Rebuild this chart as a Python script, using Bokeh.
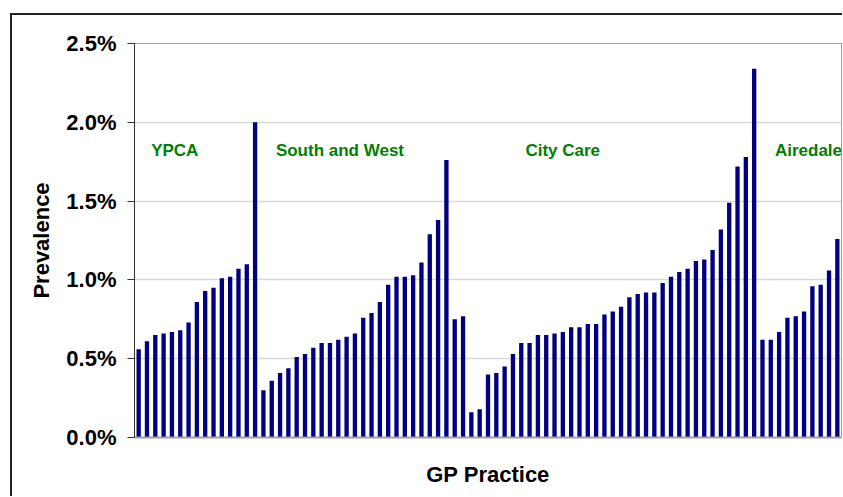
import numpy as np
from bokeh.plotting import figure
from bokeh.models import Range1d, FixedTicker, PrintfTickFormatter, ColumnDataSource
from bokeh.core.properties import value
from bokeh.embed import file_html
from bokeh.resources import INLINE

# ---- data (prevalence, %) ----
ypca = [0.56, 0.61, 0.65, 0.66, 0.67, 0.68, 0.73, 0.86, 0.93, 0.95, 1.01, 1.02, 1.07, 1.10, 2.00]
south_west = [0.30, 0.36, 0.41, 0.44, 0.51, 0.53, 0.57, 0.60, 0.60, 0.62, 0.64, 0.66, 0.76, 0.79,
              0.86, 0.97, 1.02, 1.02, 1.03, 1.11, 1.29, 1.38, 1.76, 0.75, 0.77]
city_care = [0.16, 0.18, 0.40, 0.41, 0.45, 0.53, 0.60, 0.60, 0.65, 0.65, 0.66, 0.67, 0.70, 0.70,
             0.72, 0.72, 0.78, 0.80, 0.83, 0.89, 0.91, 0.92, 0.92, 0.98, 1.02, 1.05, 1.07, 1.12,
             1.13, 1.19, 1.32, 1.49, 1.72, 1.78, 2.34]
airedale = [0.62, 0.62, 0.67, 0.76, 0.77, 0.80, 0.96, 0.97, 1.06, 1.26]

group_names = ["YPCA", "South and West", "City Care", "Airedale"]
group_label_at = [2, 17, 47, 77]     # practice index where each label starts
group_label_y = [1.82, 1.82, 1.82, 1.82]

y_ticks = [0.0, 0.5, 1.0, 1.5, 2.0, 2.5]

values = ypca + south_west + city_care + airedale
n = len(values)
FONT = "Liberation Sans"

src = ColumnDataSource(dict(x=np.arange(n) + 0.5, top=values))

p = figure(width=832, height=483, x_range=Range1d(0, n), y_range=Range1d(0, 2.5),
           output_backend="svg", toolbar_location=None,
           min_border_left=122, min_border_top=28, min_border_right=3, min_border_bottom=61)
p.margin = (13, 0, 0, 10)
p.styles = {"border-left": "2px solid #222222", "border-top": "2px solid #222222"}

p.vbar(x="x", top="top", width=0.52, bottom=0, source=src, fill_color="#000080", line_color=None)

p.text(x=group_label_at, y=group_label_y, text=group_names,
       text_font=value(FONT), text_font_style="bold", text_font_size="17px",
       text_color="#008000", text_align="left", text_baseline="middle")

p.outline_line_color = "#a0a0a0"
p.outline_line_width = 1
p.background_fill_color = "white"
p.border_fill_color = "white"

p.xgrid.visible = False
p.ygrid.ticker = FixedTicker(ticks=y_ticks)
p.ygrid.grid_line_color = "#d9d9d9"
p.ygrid.grid_line_width = 1.5

ya = p.yaxis[0]
ya.ticker = FixedTicker(ticks=y_ticks)
ya.formatter = PrintfTickFormatter(format="%.1f%%")
ya.axis_line_color = "#333333"
ya.major_tick_line_color = "#333333"
ya.major_tick_out = 7
ya.major_tick_in = 0
ya.minor_tick_line_color = None
ya.major_label_text_font = FONT
ya.major_label_text_font_style = "bold"
ya.major_label_text_font_size = "22px"
ya.major_label_text_color = "black"
ya.major_label_standoff = 11
ya.axis_label = "Prevalence"
ya.axis_label_text_font = FONT
ya.axis_label_text_font_style = "bold"
ya.axis_label_text_font_size = "22px"
ya.axis_label_text_color = "black"
ya.axis_label_standoff = 9

xa = p.xaxis[0]
xa.ticker = FixedTicker(ticks=[])
xa.axis_line_color = "#a0a0a0"
xa.axis_line_width = 2
xa.major_tick_line_color = None
xa.minor_tick_line_color = None
xa.major_label_text_font_size = "0px"
xa.axis_label = "GP Practice"
xa.axis_label_text_font = FONT
xa.axis_label_text_font_style = "bold"
xa.axis_label_text_font_size = "22px"
xa.axis_label_text_color = "black"
xa.axis_label_standoff = 24

open("out.html", "w").write(file_html(p, INLINE))
